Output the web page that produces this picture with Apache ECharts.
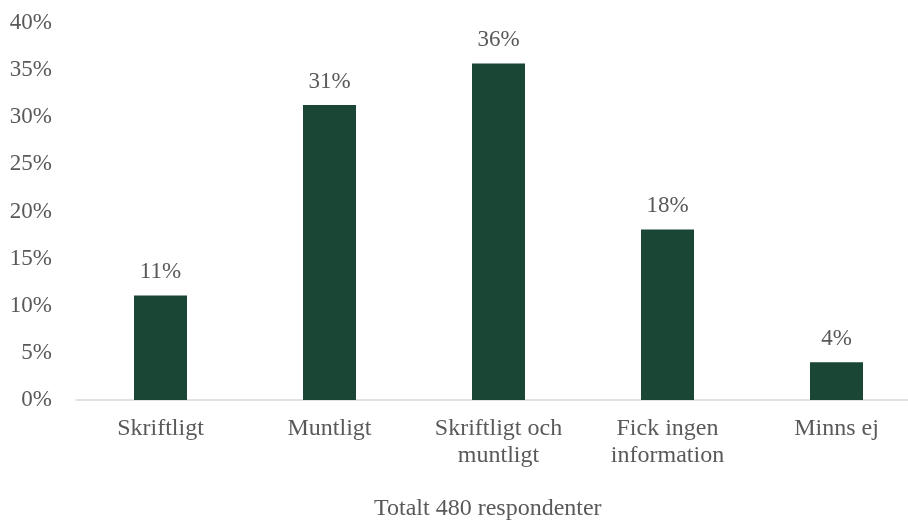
<!DOCTYPE html>
<html>
<head>
<meta charset="utf-8">
<script src="https://cdn.jsdelivr.net/npm/echarts@6/dist/echarts.min.js"></script>
<style>
  html, body { margin: 0; padding: 0; background: #ffffff; }
  #chart { width: 908px; height: 522px; }
</style>
</head>
<body>
<div id="chart"></div>
<script>
// Survey answers: how respondents received information (share of 480)
var categories = ['Skriftligt', 'Muntligt', 'Skriftligt och\nmuntligt', 'Fick ingen\ninformation', 'Minns ej'];
var shares = [11.1, 31.3, 35.7, 18.1, 4.0];
var yTicks = { min: 0, max: 40, interval: 5 };
var footnote = 'Totalt 480 respondenter';

var FONT = '"Liberation Serif", "Times New Roman", serif';
var TEXT = '#595959';

var chart = echarts.init(document.getElementById('chart'), null, { renderer: 'canvas' });
chart.setOption({
  animation: false,
  backgroundColor: '#ffffff',
  title: {
    text: footnote,
    left: 374,
    top: 497,
    padding: 0,
    textStyle: { fontFamily: FONT, fontSize: 24, fontWeight: 'normal', color: TEXT }
  },
  // the plot runs a little past the right edge of the canvas
  grid: {
    left: 76, width: 845, top: 23, bottom: 122,
    containLabel: false, outerBoundsMode: 'none'
  },
  xAxis: {
    type: 'category',
    data: categories,
    axisLine: { lineStyle: { color: '#d9d9d9', width: 1.5 } },
    axisTick: { show: false },
    axisLabel: {
      fontFamily: FONT, fontSize: 24, color: TEXT,
      lineHeight: 27, margin: 15, interval: 0
    }
  },
  yAxis: {
    type: 'value',
    min: yTicks.min,
    max: yTicks.max,
    interval: yTicks.interval,
    splitLine: { show: false },
    axisLine: { show: false },
    axisTick: { show: false },
    axisLabel: {
      fontFamily: FONT, fontSize: 23, color: TEXT, margin: 24,
      formatter: function (v) { return v + '%'; }
    }
  },
  series: [{
    type: 'bar',
    data: shares,
    barWidth: 53,
    itemStyle: { color: '#1a4735' },
    label: {
      show: true,
      position: 'top',
      distance: 12,
      fontFamily: FONT, fontSize: 23, color: TEXT,
      formatter: function (p) { return Math.round(p.value) + '%'; }
    }
  }]
});
</script>
</body>
</html>
